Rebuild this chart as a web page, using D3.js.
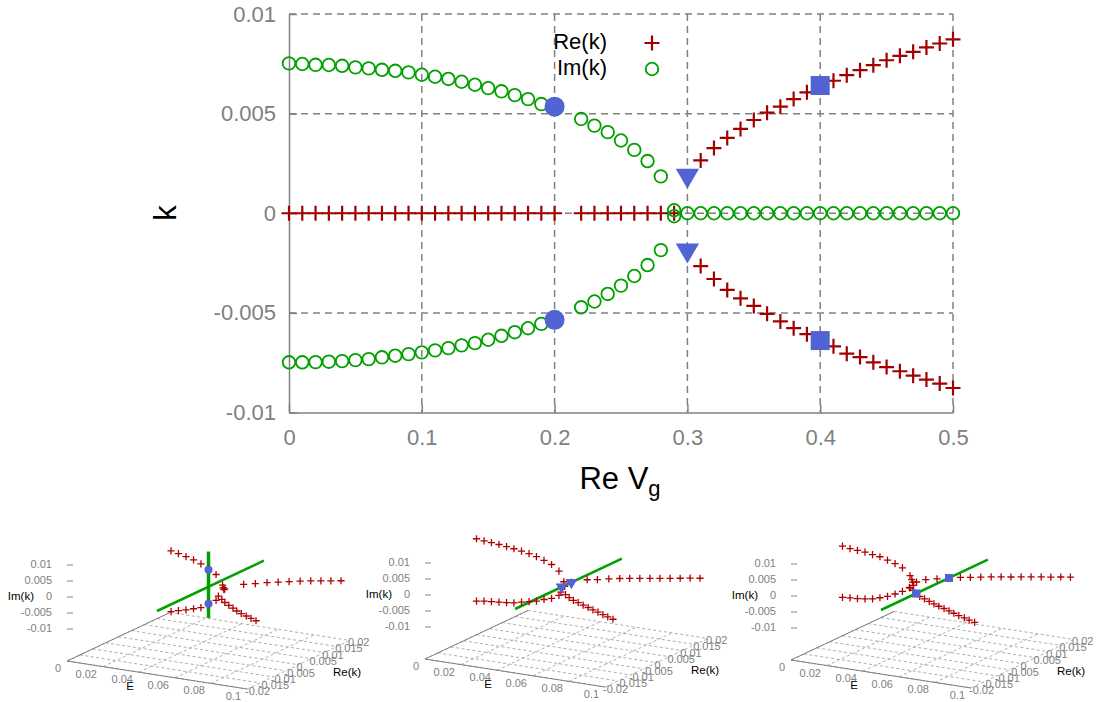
<!DOCTYPE html>
<html>
<head>
<meta charset="utf-8">
<script src="https://cdn.jsdelivr.net/npm/d3@7"></script>
<style>
  body { margin: 0; background: #fff; }
  svg { display: block; font-family: 'Liberation Sans', Arial, sans-serif; }
</style>
</head>
<body>
<svg></svg>
<script>
// ---- main plot data: k against Re Vg ----
const vgImA = [0, 0.01, 0.02, 0.03, 0.04, 0.05, 0.06, 0.07, 0.08, 0.09, 0.1,
  0.11, 0.12, 0.13, 0.14, 0.15, 0.16, 0.17, 0.18, 0.19, 0.2];
const imUpA = [0.00752, 0.00749, 0.00745, 0.00744, 0.0074, 0.00732, 0.00727, 0.0072, 0.00715, 0.00707, 0.00695,
  0.00685, 0.00674, 0.0066, 0.00645, 0.00628, 0.00612, 0.00593, 0.00573, 0.00548, 0.00535];
const imLowA = [-0.00748, -0.00748, -0.00747, -0.00745, -0.00742, -0.00737, -0.00732, -0.00723, -0.00715, -0.00707, -0.00698,
  -0.00688, -0.00677, -0.00663, -0.00652, -0.00635, -0.00615, -0.00597, -0.00577, -0.00555, -0.00535];
const vgImB = [0.22, 0.23, 0.24, 0.25, 0.26, 0.27, 0.28];
const imUpB = [0.00473, 0.0044, 0.00407, 0.00365, 0.00318, 0.00262, 0.00185];
const imLowB = [-0.00472, -0.00443, -0.00405, -0.00363, -0.00315, -0.0026, -0.00185];
const vgNearEp = [0.29, 0.29];
const imNearEp = [0.00015, -0.00015];
const vgImZero = [0.3, 0.31, 0.32, 0.33, 0.34, 0.35, 0.36, 0.37, 0.38, 0.39, 0.4,
  0.41, 0.42, 0.43, 0.44, 0.45, 0.46, 0.47, 0.48, 0.49, 0.5];
const imZero = [0, 0, 0, 0, 0, 0, 0, 0, 0, 0, 0, 0, 0, 0, 0, 0, 0, 0, 0, 0, 0];
const vgReZero = [0, 0.01, 0.02, 0.03, 0.04, 0.05, 0.06, 0.07, 0.08, 0.09, 0.1,
  0.11, 0.12, 0.13, 0.14, 0.15, 0.16, 0.17, 0.18, 0.19, 0.2,
  0.22, 0.23, 0.24, 0.25, 0.26, 0.27, 0.28, 0.29];
const reZero = [0, 0, 0, 0, 0, 0, 0, 0, 0, 0, 0, 0, 0, 0, 0, 0, 0, 0, 0, 0, 0, 0, 0, 0, 0, 0, 0, 0, 0];
const vgReSplit = [0.31, 0.32, 0.33, 0.34, 0.35, 0.36, 0.37, 0.38, 0.39, 0.4,
  0.41, 0.42, 0.43, 0.44, 0.45, 0.46, 0.47, 0.48, 0.49, 0.5];
const reUp = [0.00265, 0.00327, 0.00378, 0.00423, 0.00468, 0.00505, 0.00535, 0.00573, 0.00607, 0.00643,
  0.00665, 0.00693, 0.00718, 0.00743, 0.00768, 0.0079, 0.0081, 0.00832, 0.00852, 0.00873];
const reLow = [-0.00265, -0.0033, -0.00385, -0.00427, -0.00465, -0.00505, -0.00543, -0.00577, -0.00607, -0.00638,
  -0.00668, -0.00705, -0.00722, -0.00748, -0.00772, -0.00793, -0.00815, -0.00835, -0.00855, -0.00877];

// highlighted points (circle, triangle, square)
const vgMarks = [0.2, 0.3, 0.4];
const markUp = [0.00535, 0.0019, 0.00641];
const markLow = [-0.00535, -0.00185, -0.00639];

const xTicks = [0, 0.1, 0.2, 0.3, 0.4, 0.5];
const yTicks = [-0.01, -0.005, 0, 0.005, 0.01];
const xTickLabels = ['0', '0.1', '0.2', '0.3', '0.4', '0.5'];
const yTickLabels = ['-0.01', '-0.005', '0', '0.005', '0.01'];

// ---- 3d insets: k(E) at Vg = 0.2, 0.3, 0.4 ----
const ins1ImE = [0.0292, 0.0333, 0.0375, 0.0417, 0.0458, 0.05, 0.0542];
const ins1ImUp = [0.0094, 0.0089, 0.0083, 0.0077, 0.0068, 0.0057, 0.0042];
const ins1ImLow = [-0.0096, -0.0089, -0.0083, -0.0076, -0.0069, -0.0056, -0.0039];
const ins1EpE = [0.0578, 0.0582, 0.0586, 0.059];
const ins1EpRe = [0, 0, 0.0003, -0.0003];
const ins1EpIm = [0.0012, 0.0004, 0, 0];
const ins1ReE = [0.0625, 0.0667, 0.0708, 0.075, 0.0792, 0.0833, 0.0875, 0.0917, 0.0958, 0.1];
const ins1ReUp = [0.0049, 0.0065, 0.0082, 0.0096, 0.0109, 0.0123, 0.0135, 0.0145, 0.0155, 0.0165];
const ins1ReLow = [-0.0049, -0.0065, -0.0082, -0.0096, -0.0109, -0.0123, -0.0135, -0.0145, -0.0155, -0.0165];

const ins2ImE = [0, 0.0042, 0.0083, 0.0125, 0.0167, 0.0208, 0.025, 0.0292, 0.0333, 0.0375, 0.0417, 0.0458];
const ins2ImUp = [0.01, 0.0097, 0.0095, 0.0093, 0.009, 0.0087, 0.0083, 0.0079, 0.0073, 0.0065, 0.0056, 0.0039];
const ins2ImLow = [-0.0095, -0.0091, -0.0089, -0.0087, -0.0085, -0.0082, -0.0076, -0.0071, -0.0066, -0.0057, -0.005, -0.0037];
const ins2EpE = [0.0485, 0.049];
const ins2EpRe = [0, 0];
const ins2EpIm = [0.0008, -0.0006];
const ins2ReE = [0.05, 0.0542, 0.0583, 0.0625, 0.0667, 0.0708, 0.075, 0.0792, 0.0833, 0.0875, 0.0917, 0.0958, 0.1];
const ins2ReUp = [0.0019, 0.0051, 0.0062, 0.0077, 0.009, 0.01, 0.011, 0.012, 0.013, 0.014, 0.015, 0.016, 0.0169];
const ins2ReLow = [-0.0019, -0.0051, -0.0062, -0.0077, -0.009, -0.01, -0.011, -0.012, -0.013, -0.014, -0.015, -0.016, -0.0169];

const ins3ImE = [0, 0.0042, 0.0083, 0.0125, 0.0167, 0.0208, 0.025, 0.0292, 0.0333, 0.0375];
const ins3ImUp = [0.008, 0.0076, 0.0074, 0.0072, 0.0068, 0.0065, 0.0058, 0.0051, 0.0041, 0.0021];
const ins3ImLow = [-0.008, -0.0078, -0.0077, -0.0074, -0.007, -0.0063, -0.0055, -0.0044, -0.0032, -0.0018];
const ins3EpE = [0.0385, 0.039, 0.0395, 0.04];
const ins3EpRe = [0, 0, 0, 0.0008];
const ins3EpIm = [0.0009, 0.0002, -0.0008, 0];
const ins3ReE = [0.0417, 0.0458, 0.05, 0.0542, 0.0583, 0.0625, 0.0667, 0.0708, 0.075, 0.0792, 0.0833, 0.0875, 0.0917, 0.0958, 0.1];
const ins3ReUp = [0.0032, 0.0047, 0.0064, 0.0079, 0.0089, 0.01, 0.0111, 0.0121, 0.013, 0.014, 0.015, 0.016, 0.0168, 0.0178, 0.0186];
const ins3ReLow = [-0.0032, -0.0047, -0.0064, -0.0079, -0.0089, -0.01, -0.0111, -0.0121, -0.013, -0.014, -0.015, -0.016, -0.0168, -0.0178, -0.0186];

const insetE0 = 0.05;
const insetMarkRe = [[0, 0], [0.0019, -0.0019], [0.0064, -0.0064]];
const insetMarkIm = [[0.00535, -0.00535], [0, 0], [0, 0]];

const eTicks = [0, 0.02, 0.04, 0.06, 0.08, 0.1];
const reTicks = [-0.02, -0.015, -0.01, -0.005, 0, 0.005, 0.01, 0.015, 0.02];
const imTicks = [0.01, 0.005, 0, -0.005, -0.01];

const red = '#a00000';
const green = '#00a000';
const blue = '#5263d3';
const gray = '#808080';

const svg = d3.select('svg').attr('width', 1102).attr('height', 702);

const xScale = d3.scaleLinear().domain([0, 0.5]).range([289, 953]);
const yScale = d3.scaleLinear().domain([-0.01, 0.01]).range([412.5, 14]);

const zip = (xs, ys) => xs.map((x, i) => [x, ys[i]]);
const crossPath = (s) => `M${-s},0H${s}M0,${-s}V${s}`;

const generateGrid = () => {
  const g = svg.append('g');
  g.selectAll('line.gx')
    .data(xTicks.slice(1))
    .enter()
    .append('line')
    .attr('x1', (d) => xScale(d))
    .attr('x2', (d) => xScale(d))
    .attr('y1', yScale(0.01))
    .attr('y2', yScale(-0.01))
    .attr('stroke', gray)
    .attr('stroke-width', 1.5)
    .attr('stroke-dasharray', '7,5');
  g.selectAll('line.gy')
    .data(yTicks.slice(1))
    .enter()
    .append('line')
    .attr('y1', (d) => yScale(d))
    .attr('y2', (d) => yScale(d))
    .attr('x1', xScale(0))
    .attr('x2', xScale(0.5))
    .attr('stroke', gray)
    .attr('stroke-width', 1.5)
    .attr('stroke-dasharray', '7,5');
};

const generateAxes = () => {
  const xAxis = d3.axisBottom(xScale)
    .tickValues(xTicks)
    .tickFormat((d, i) => xTickLabels[i])
    .tickSizeInner(-8)
    .tickSizeOuter(0)
    .tickPadding(17);
  const yAxis = d3.axisLeft(yScale)
    .tickValues(yTicks)
    .tickFormat((d, i) => yTickLabels[i])
    .tickSizeInner(-8)
    .tickSizeOuter(0)
    .tickPadding(13);

  const gx = svg.append('g')
    .attr('transform', 'translate(0,' + yScale(-0.01) + ')')
    .call(xAxis);
  const gy = svg.append('g')
    .attr('transform', 'translate(' + xScale(0) + ',0)')
    .call(yAxis);

  [gx, gy].forEach((g) => {
    g.attr('font-family', null).attr('font-size', 22);
    g.select('.domain').attr('stroke', gray).attr('stroke-width', 1.5);
    g.selectAll('.tick line').attr('stroke', gray).attr('stroke-width', 1.5);
    g.selectAll('.tick text').attr('fill', gray);
  });

  svg.append('text')
    .attr('x', 620)
    .attr('y', 489)
    .attr('text-anchor', 'middle')
    .attr('font-size', 31)
    .text('Re V')
    .append('tspan')
    .attr('font-size', 22)
    .attr('dy', 7)
    .text('g');

  svg.append('text')
    .attr('transform', 'translate(168,213) rotate(-90)')
    .attr('text-anchor', 'middle')
    .attr('dominant-baseline', 'middle')
    .attr('font-size', 31)
    .text('k');
};

const generateMarks = () => {
  const crosses = [].concat(
    zip(vgReZero, reZero),
    zip(vgReSplit, reUp),
    zip(vgReSplit, reLow)
  );
  const circles = [].concat(
    zip(vgImA, imUpA),
    zip(vgImA, imLowA),
    zip(vgImB, imUpB),
    zip(vgImB, imLowB),
    zip(vgNearEp, imNearEp),
    zip(vgImZero, imZero)
  );

  svg.append('g')
    .selectAll('path')
    .data(crosses)
    .enter()
    .append('path')
    .attr('d', crossPath(7.5))
    .attr('transform', (d) => 'translate(' + xScale(d[0]) + ',' + yScale(d[1]) + ')')
    .attr('stroke', red)
    .attr('stroke-width', 2.2)
    .attr('fill', 'none');

  svg.append('g')
    .selectAll('circle')
    .data(circles)
    .enter()
    .append('circle')
    .attr('cx', (d) => xScale(d[0]))
    .attr('cy', (d) => yScale(d[1]))
    .attr('r', 6.3)
    .attr('stroke', green)
    .attr('stroke-width', 1.8)
    .attr('fill', 'none');

  const marks = svg.append('g');
  [markUp, markLow].forEach((vals) => {
    // circle at 0.2
    marks.append('circle')
      .attr('cx', xScale(vgMarks[0]))
      .attr('cy', yScale(vals[0]))
      .attr('r', 10)
      .attr('fill', blue);
    // down triangle at 0.3
    marks.append('path')
      .attr('d', d3.symbol(d3.symbolTriangle, 235)())
      .attr('transform', 'translate(' + xScale(vgMarks[1]) + ',' + yScale(vals[1]) + ') rotate(180)')
      .attr('fill', blue);
    // square at 0.4
    marks.append('rect')
      .attr('x', xScale(vgMarks[2]) - 9.5)
      .attr('y', yScale(vals[2]) - 9.5)
      .attr('width', 19)
      .attr('height', 19)
      .attr('fill', blue);
  });
};

const generateLegend = () => {
  const g = svg.append('g').attr('font-size', 22);
  g.append('text').attr('x', 607).attr('y', 43).attr('text-anchor', 'end')
    .attr('dominant-baseline', 'middle').text('Re(k)');
  g.append('text').attr('x', 607).attr('y', 69).attr('text-anchor', 'end')
    .attr('dominant-baseline', 'middle').text('Im(k)');
  g.append('path').attr('d', crossPath(7.5)).attr('transform', 'translate(652,43)')
    .attr('stroke', red).attr('stroke-width', 2.2).attr('fill', 'none');
  g.append('circle').attr('cx', 652).attr('cy', 69).attr('r', 6.3)
    .attr('stroke', green).attr('stroke-width', 1.8).attr('fill', 'none');
};

// ---- 3d insets ----
const insetOrigins = [[67, 661], [425, 659], [791, 660]];
const eX = d3.scaleLinear().domain([0, 0.1]).range([0, 180]);
const eY = d3.scaleLinear().domain([0, 0.1]).range([0, 28]);
const reX = d3.scaleLinear().domain([-0.02, 0.02]).range([0, 103]);
const reY = d3.scaleLinear().domain([-0.02, 0.02]).range([0, -48.5]);
const imY = d3.scaleLinear().domain([-0.02, 0.01]).range([0, -96]);

const project = (o, e, re, im) => [o[0] + eX(e) + reX(re), o[1] + eY(e) + reY(re) + imY(im)];

const insets = [
  {
    branches: [
      [ins1ImE, ins1ImE.map(() => 0), ins1ImUp],
      [ins1ImE, ins1ImE.map(() => 0), ins1ImLow],
      [ins1EpE, ins1EpRe, ins1EpIm],
      [ins1ReE, ins1ReUp, ins1ReE.map(() => 0)],
      [ins1ReE, ins1ReLow, ins1ReE.map(() => 0)],
    ],
    vertical: true,
    shape: 'circle',
  },
  {
    branches: [
      [ins2ImE, ins2ImE.map(() => 0), ins2ImUp],
      [ins2ImE, ins2ImE.map(() => 0), ins2ImLow],
      [ins2EpE, ins2EpRe, ins2EpIm],
      [ins2ReE, ins2ReUp, ins2ReE.map(() => 0)],
      [ins2ReE, ins2ReLow, ins2ReE.map(() => 0)],
    ],
    vertical: false,
    shape: 'triangle',
  },
  {
    branches: [
      [ins3ImE, ins3ImE.map(() => 0), ins3ImUp],
      [ins3ImE, ins3ImE.map(() => 0), ins3ImLow],
      [ins3EpE, ins3EpRe, ins3EpIm],
      [ins3ReE, ins3ReUp, ins3ReE.map(() => 0)],
      [ins3ReE, ins3ReLow, ins3ReE.map(() => 0)],
    ],
    vertical: false,
    shape: 'square',
  },
];

const generateInset = (inset, idx) => {
  const o = insetOrigins[idx];
  const g = svg.append('g');
  const floor = -0.02;
  const line = d3.line();

  // floor grid
  eTicks.forEach((e) => {
    g.append('path')
      .attr('d', line([project(o, e, -0.02, floor), project(o, e, 0.02, floor)]))
      .attr('stroke', '#999').attr('stroke-width', 0.8).attr('stroke-dasharray', '3,2.5').attr('fill', 'none');
  });
  reTicks.forEach((re) => {
    g.append('path')
      .attr('d', line([project(o, 0, re, floor), project(o, 0.1, re, floor)]))
      .attr('stroke', '#999').attr('stroke-width', 0.8).attr('stroke-dasharray', '3,2.5').attr('fill', 'none');
  });
  g.append('path')
    .attr('d', line([project(o, 0, 0.02, floor), project(o, 0, -0.02, floor), project(o, 0.1, -0.02, floor)]))
    .attr('stroke', gray).attr('stroke-width', 1).attr('fill', 'none');

  // tick labels
  const labels = g.append('g').attr('font-size', 11).attr('fill', gray);
  eTicks.forEach((e) => {
    const p = project(o, e, -0.02, floor);
    labels.append('text').attr('x', p[0] - 6).attr('y', p[1] + 8)
      .attr('text-anchor', 'end').attr('dominant-baseline', 'middle').text(String(e));
  });
  reTicks.forEach((re) => {
    const p = project(o, 0.1, re, floor);
    labels.append('text').attr('x', p[0] - 2).attr('y', p[1] + 3)
      .attr('dominant-baseline', 'middle').text(String(re));
  });
  imTicks.forEach((im) => {
    const p = project(o, 0, -0.02, im);
    labels.append('text').attr('x', p[0] - 15).attr('y', p[1])
      .attr('text-anchor', 'end').attr('dominant-baseline', 'middle').text(String(im));
    g.append('line').attr('x1', p[0]).attr('x2', p[0] + 6).attr('y1', p[1]).attr('y2', p[1])
      .attr('stroke', gray).attr('stroke-width', 1);
  });

  const names = g.append('g').attr('font-size', 11.5).attr('fill', '#000');
  const pIm = project(o, 0, -0.02, 0);
  names.append('text').attr('x', pIm[0] - 33).attr('y', pIm[1])
    .attr('text-anchor', 'end').attr('dominant-baseline', 'middle').text('Im(k)');
  names.append('text').attr('x', o[0] + 63).attr('y', o[1] + 26)
    .attr('text-anchor', 'middle').attr('dominant-baseline', 'middle').text('E');
  names.append('text').attr('x', o[0] + 266).attr('y', o[1] + 12)
    .attr('dominant-baseline', 'middle').text('Re(k)');

  // green slice lines at E0
  g.append('path')
    .attr('d', line([project(o, insetE0, -0.02, 0), project(o, insetE0, 0.0215, 0)]))
    .attr('stroke', green).attr('stroke-width', 2.5).attr('fill', 'none');
  if (inset.vertical) {
    g.append('path')
      .attr('d', line([project(o, insetE0, 0, -0.0098), project(o, insetE0, 0, 0.011)]))
      .attr('stroke', green).attr('stroke-width', 3.5).attr('fill', 'none');
  }

  // red crosses
  const pts = [];
  inset.branches.forEach((b) => {
    b[0].forEach((e, i) => pts.push(project(o, e, b[1][i], b[2][i])));
  });
  g.append('g')
    .selectAll('path')
    .data(pts)
    .enter()
    .append('path')
    .attr('d', crossPath(3.6))
    .attr('transform', (d) => 'translate(' + d[0] + ',' + d[1] + ')')
    .attr('stroke', '#b00000')
    .attr('stroke-width', 1.3)
    .attr('fill', 'none');

  // blue markers
  insetMarkRe[idx].forEach((re, i) => {
    const p = project(o, insetE0, re, insetMarkIm[idx][i]);
    if (inset.shape === 'circle') {
      g.append('circle').attr('cx', p[0]).attr('cy', p[1]).attr('r', 4).attr('fill', blue);
    } else if (inset.shape === 'triangle') {
      g.append('path').attr('d', d3.symbol(d3.symbolTriangle, 62)())
        .attr('transform', 'translate(' + p[0] + ',' + p[1] + ') rotate(180)').attr('fill', blue);
    } else {
      g.append('rect').attr('x', p[0] - 4).attr('y', p[1] - 4).attr('width', 8).attr('height', 8).attr('fill', blue);
    }
  });
};

generateGrid();
generateAxes();
generateMarks();
generateLegend();
insets.forEach(generateInset);
</script>
</body>
</html>
